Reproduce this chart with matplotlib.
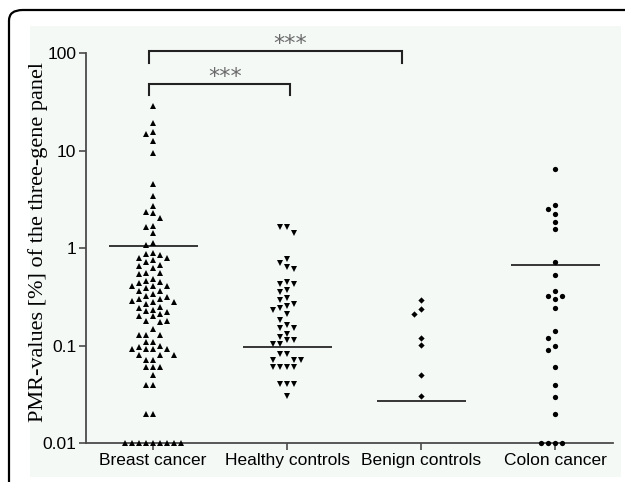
import numpy as np
import matplotlib
matplotlib.use("Agg")
import matplotlib.pyplot as plt
from matplotlib.patches import FancyBboxPatch, Rectangle
from matplotlib.transforms import blended_transform_factory

# ---------------- data ----------------
categories = ["Breast cancer", "Healthy controls", "Benign controls", "Colon cancer"]

breast = [28.5, 19.3, 15.6, 14.7, 12.5, 9.5, 4.5, 3.4, 2.7, 2.35, 2.3, 2.05, 1.7, 1.66, 1.42, 1.12, 1.07,
          0.89, 0.85, 0.80, 0.80, 0.87,
          0.75, 0.725, 0.67, 0.66,
          0.625,
          0.56, 0.545, 0.55,
          0.486, 0.46, 0.45, 0.44,
          0.41, 0.41, 0.41,
          0.39, 0.36, 0.36,
          0.335, 0.32, 0.315, 0.30, 0.30,
          0.29, 0.28, 0.28, 0.27, 0.25, 0.245,
          0.235, 0.227, 0.22, 0.21,
          0.20, 0.20,
          0.181, 0.175, 0.181,
          0.15,
          0.13, 0.13, 0.13,
          0.11, 0.11,
          0.10, 0.098, 0.093,
          0.092, 0.092, 0.092,
          0.08, 0.08, 0.08,
          0.071, 0.071,
          0.06, 0.06, 0.06,
          0.05,
          0.04, 0.04,
          0.02, 0.02,
          0.01, 0.01, 0.01, 0.01, 0.01, 0.01, 0.01, 0.01, 0.01]

healthy = [1.64, 1.42, 1.64, 0.77, 0.70, 0.64, 0.615, 0.45, 0.43, 0.43, 0.37, 0.355,
           0.306, 0.295, 0.268, 0.254, 0.246, 0.233, 0.213, 0.184, 0.163, 0.153, 0.153,
           0.133, 0.122, 0.114, 0.114, 0.103, 0.103, 0.082, 0.082,
           0.072, 0.072, 0.072, 0.061, 0.061, 0.061, 0.061,
           0.0405, 0.0405, 0.0405, 0.0306]

benign = [0.292, 0.24, 0.212, 0.121, 0.101, 0.050, 0.0304]

colon = [6.45, 2.75, 2.54, 2.25, 1.85, 1.56, 0.72, 0.525,
         0.364, 0.324, 0.324, 0.30, 0.242, 0.141, 0.121, 0.10, 0.091,
         0.0605, 0.040, 0.030, 0.020, 0.01, 0.01, 0.01, 0.01]

center_lines = [1.05, 0.098, 0.027, 0.675]

y_ticks = [0.01, 0.1, 1, 10, 100]
y_tick_labels = ["0.01", "0.1", "1", "10", "100"]

groups = [breast, healthy, benign, colon]
markers = ["^", "v", "D", "o"]
msizes = [4.4, 4.4, 3.2, 3.8]

# ---------------- figure ----------------
W, H = 625, 482
fig = plt.figure(figsize=(W / 100, H / 100), dpi=100)
fig.patch.set_facecolor("white")

# outer rounded frame (cropped: only top & left visible)
frame = FancyBboxPatch((9 / W, -40 / H), 700 / W, (H - 10 + 40) / H,
                       boxstyle="round,pad=0,rounding_size=0.022",
                       transform=fig.transFigure, fill=False,
                       edgecolor="black", linewidth=1.6, clip_on=False, zorder=-10)
fig.patches.append(frame)
panel = Rectangle((30 / W, (H - 477) / H), (621 - 30) / W, (477 - 26) / H,
                  transform=fig.transFigure, facecolor="#f4f9f6", edgecolor="none", zorder=-9)
fig.patches.append(panel)

left_px, right_px, top_px, bot_px = 86, 613, 53, 443.3
ax = fig.add_axes([left_px / W, (H - bot_px) / H, (right_px - left_px) / W, (bot_px - top_px) / H])
ax.set_facecolor("none")
ax.set_yscale("log")
ax.set_ylim(0.01, 100)
ax.set_xlim(-0.5, 3.43)

px_per_unit = (right_px - left_px) / 3.93
px_per_decade = (bot_px - top_px) / 4.0
step = 7.0 / px_per_unit


def swarm_offsets(vals, min_dy=6.5):
    vals = np.asarray(vals, dtype=float)
    order = np.argsort(-vals, kind="stable")
    placed = {}
    offs = np.zeros(len(vals))
    cands = [0] + [s * j for j in range(1, 30) for s in (-1, 1)]
    for i in order:
        y = np.log10(vals[i]) * px_per_decade
        for c in cands:
            if all(abs(y - yy) >= min_dy for yy in placed.get(c, [])):
                break
        placed.setdefault(c, []).append(y)
        offs[i] = c * step
    return offs


for gi, (vals, m, ms) in enumerate(zip(groups, markers, msizes)):
    offs = swarm_offsets(vals)
    ax.plot(gi + offs, vals, linestyle="none", marker=m, markersize=ms,
            color="black", markeredgewidth=0, clip_on=False, zorder=3)
    ax.hlines(center_lines[gi], gi - 0.332, gi + 0.332, color="black", linewidth=1.1, zorder=2)

# axes styling
for s in ["top", "right"]:
    ax.spines[s].set_visible(False)
for s in ["left", "bottom"]:
    ax.spines[s].set_color("#4a4a4a")
    ax.spines[s].set_linewidth(1.3)
ax.set_yticks(y_ticks)
ax.set_yticklabels(y_tick_labels)
ax.yaxis.set_minor_locator(matplotlib.ticker.NullLocator())
ax.set_xticks(range(len(categories)))
ax.set_xticklabels(categories)
ax.tick_params(axis="both", direction="out", length=5, width=1.2, color="#4a4a4a",
               labelsize=12.5, labelcolor="black", pad=2)
for lab in ax.get_xticklabels() + ax.get_yticklabels():
    lab.set_fontfamily("Liberation Sans")

ax.set_ylabel("PMR-values [%] of the three-gene panel", fontfamily="Liberation Serif",
              fontsize=16, labelpad=-1)
ax.yaxis.set_label_coords(-0.073, 0.515)

# significance brackets
tr = blended_transform_factory(ax.transData, ax.transAxes)
brackets = [(-0.032, 1.857, 1.005, 0.975, 1.02, 1.022),
            (-0.032, 1.02, 0.920, 0.893, 0.537, 0.938)]
for x0, x1, yb, yl, xt, yt in brackets:
    ax.plot([x0, x0, x1, x1], [yl, yb, yb, yl], color="#222222", linewidth=1.5,
            transform=tr, clip_on=False, solid_joinstyle="miter")
    ax.text(xt, yt, "***", transform=tr, ha="center", va="center", fontsize=16,
            color="#6a6a6a", fontfamily="DejaVu Sans")

fig.savefig("out.png", dpi=100)
